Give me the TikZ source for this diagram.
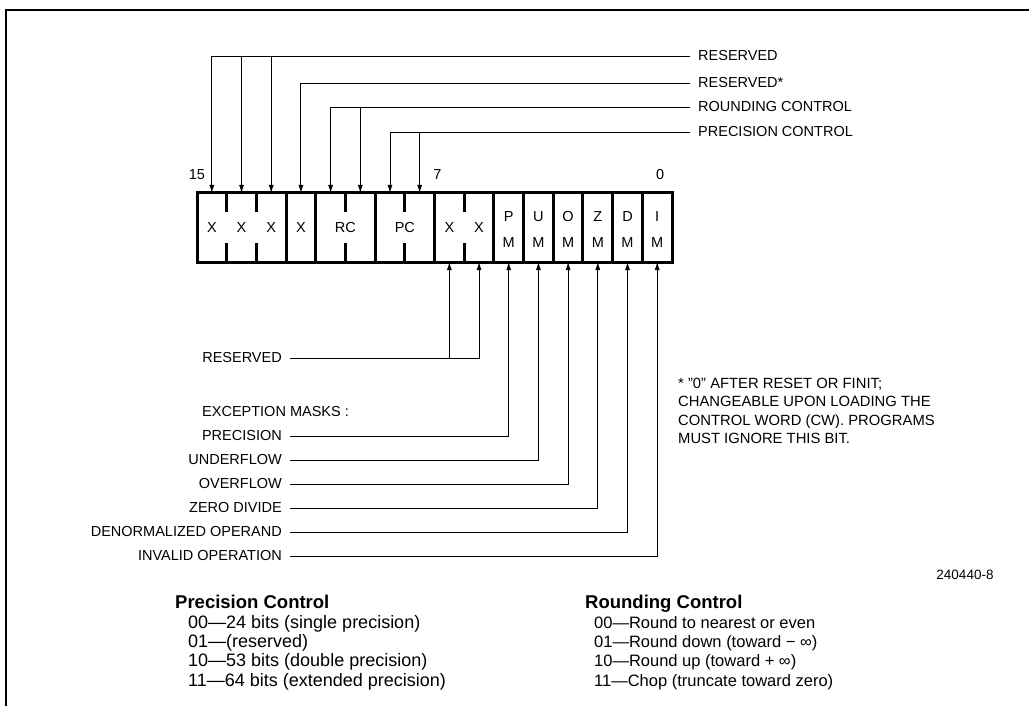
\documentclass[tikz,border=0pt]{standalone}
\usepackage{fontspec}
\setmainfont{Liberation Sans}
\usetikzlibrary{arrows.meta}

\begin{document}
\begin{tikzpicture}[x=1pt, y=-1pt, >={Latex[length=8pt,width=5pt]},
    lbl/.style={font=\fontsize{14.5}{17}\selectfont, inner xsep=8pt, inner ysep=1pt},
    cell/.style={font=\fontsize{14.5}{17}\selectfont, inner sep=0pt},
    title/.style={font=\bfseries\fontsize{18.5}{20}\selectfont, inner sep=0pt, anchor=base west},
    list/.style={inner sep=0pt, align=left, anchor=base west},
    wire/.style={line width=0.9pt},
    wall/.style={line width=3pt}]

    \useasboundingbox (0,0) rectangle (1029,706);
    \draw[line width=1.5pt] (6,706) -- (6,10) -- (1029,10);

    % control word register, one unit = one bit
    \begin{scope}[xshift=197pt, x=29.69pt]
        \draw[wall] (0,193) rectangle (16,262);
        \foreach \j in {3,4,6,8,10,11,...,15}
            \draw[wall] (\j,193) -- (\j,262);
        \foreach \j in {1,2,5,7,9} {
            \draw[wall] (\j,193) -- (\j,212);
            \draw[wall] (\j,243) -- (\j,262);
        }
        \foreach \i in {0,...,15} {
            \coordinate (t\i) at ({15.5-\i},193);
            \coordinate (u\i) at ({15.5-\i},262);
        }
        \foreach \j/\n in {0.5/15,1.5/14,2.5/13,3.5/12,8.5/7,9.5/6}
            \node[cell] (c\n) at (\j,228) {X};
        \node[cell] (rc) at (5,228) {RC};
        \node[cell] (pc) at (7,228) {PC};
        \foreach \i/\t in {5/P,4/U,3/O,2/Z,1/D,0/I} {
            \node[cell] (mt\i) at ({15.5-\i},217) {\t};
            \node[cell] (mb\i) at ({15.5-\i},243) {M};
        }
        \node[cell] (n15) at (0,175) {15};
        \node[cell] (n7) at (8.1,175) {7};
        \node[cell] (n0) at (15.6,175) {0};
    \end{scope}

    % fields above
    \node[lbl, anchor=west] (res) at (690,56) {RESERVED};
    \node[lbl, anchor=west] (resx) at (690,83) {RESERVED*};
    \node[lbl, anchor=west] (rnd) at (690,107) {ROUNDING CONTROL};
    \node[lbl, anchor=west] (prc) at (690,132) {PRECISION CONTROL};

    \draw[wire,->] (res.west) -| (t15);
    \draw[wire,->] (t14 |- res.west) -- (t14);
    \draw[wire,->] (t13 |- res.west) -- (t13);
    \draw[wire,->] (resx.west) -| (t12);
    \draw[wire,->] (rnd.west) -| (t11);
    \draw[wire,->] (t10 |- rnd.west) -- (t10);
    \draw[wire,->] (prc.west) -| (t9);
    \draw[wire,->] (t8 |- prc.west) -- (t8);

    % fields below
    \node[lbl, anchor=east] (rsvb) at (290,358) {RESERVED};
    \draw[wire,->] (rsvb.east) -| (u6);
    \draw[wire,->] (u7 |- rsvb.east) -- (u7);

    \node[cell, anchor=west] (exc) at (202,412) {EXCEPTION MASKS :};
    \foreach \i/\y/\t in {5/436/PRECISION, 4/460/UNDERFLOW, 3/484/OVERFLOW,
            2/508/ZERO DIVIDE, 1/532/DENORMALIZED OPERAND, 0/556/INVALID OPERATION} {
        \node[lbl, anchor=east] (e\i) at (290,\y) {\t};
        \draw[wire,->] (e\i.east) -| (u\i);
    }

    % base anchor of a multi-line node is its last line
    \node[font=\fontsize{14.8}{18.5}\selectfont, inner sep=0pt, align=left, anchor=base west] (note) at (678,443.5)
        {* "0" AFTER RESET OR FINIT;\\CHANGEABLE UPON LOADING THE\\CONTROL WORD (CW). PROGRAMS\\MUST IGNORE THIS BIT.};
    \node[font=\fontsize{13.5}{16}\selectfont, inner sep=0pt] (fig) at (965,575) {240440-8};

    % code tables
    \node[title] (pct) at (175,608) {Precision Control};
    \node[list, font=\fontsize{18}{19.4}\selectfont] (pcl) at (188,686.2)
        {00—24 bits (single precision)\\01—(reserved)\\10—53 bits (double precision)\\11—64 bits (extended precision)};
    \node[title] (rct) at (585,608) {Rounding Control};
    \node[list, font=\fontsize{16.5}{19.4}\selectfont] (rcl) at (594,686.2)
        {00—Round to nearest or even\\01—Round down (toward − ∞)\\10—Round up (toward + ∞)\\11—Chop (truncate toward zero)};

\end{tikzpicture}
\end{document}
